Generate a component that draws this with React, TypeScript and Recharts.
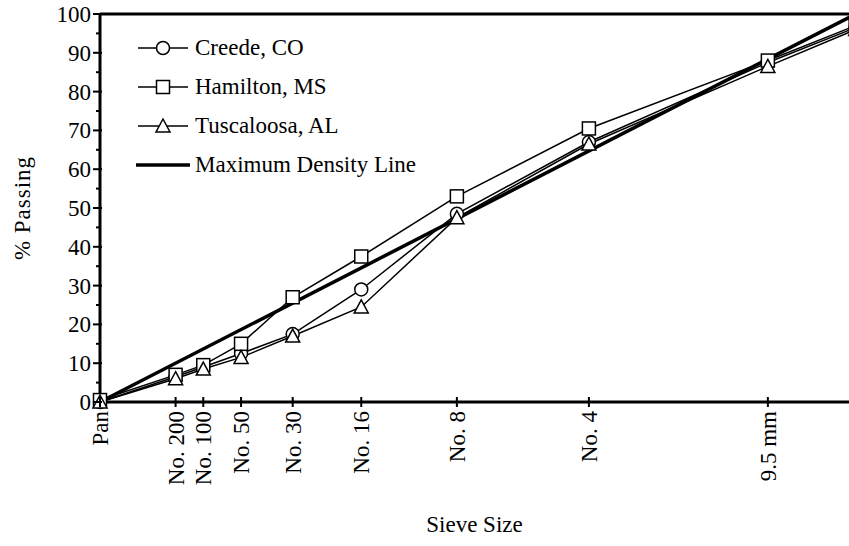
import { LineChart, Line, XAxis, YAxis, ReferenceLine } from "recharts";

// sieve sizes in mm, plotted on a 0.45 power scale
const sieveLabels = ["Pan", "No. 200", "No. 100", "No. 50", "No. 30", "No. 16", "No. 8", "No. 4", "9.5 mm", "12.5 mm"];
const sieveSizesMm = [0, 0.075, 0.15, 0.3, 0.6, 1.18, 2.36, 4.75, 9.5, 12.5];
const tickCount = 9; // Pan .. 9.5 mm get a label

const creede = [0, 6.5, 9, 12.5, 17.5, 29, 48.5, 67, 87.5, 96.5];
const hamilton = [0.5, 7, 9.5, 15, 27, 37.5, 53, 70.5, 88, 97];
const tuscaloosa = [0, 6, 8.5, 11.5, 17, 24.5, 47.5, 66.5, 86.5, 96];

const maxDensitySizesMm = [0, 12.5];
const maxDensity = [0, 100];

const yTicks = [0, 5, 10, 15, 20, 25, 30, 35, 40, 45, 50, 55, 60, 65, 70, 75, 80, 85, 90, 95, 100];

const P = 0.45;
const px = (mm: number) => Math.pow(mm, P);

const toRows = (vals: number[]) => sieveSizesMm.map((mm, i) => ({ x: px(mm), y: vals[i] }));
const creedeRows = toRows(creede);
const hamiltonRows = toRows(hamilton);
const tuscaloosaRows = toRows(tuscaloosa);
const maxDensityRows = maxDensitySizesMm.map((mm, i) => ({ x: px(mm), y: maxDensity[i] }));
const xTicks = sieveSizesMm.slice(0, tickCount).map(px);

const FONT = "'Liberation Serif', 'Times New Roman', serif";
const FS = 23;

const Circle = ({ cx, cy }: any) => (
  <circle cx={cx} cy={cy} r={6.5} fill="#fff" stroke="#000" strokeWidth={1.5} />
);
const Square = ({ cx, cy }: any) => (
  <rect x={cx - 6.5} y={cy - 6.5} width={13} height={13} fill="#fff" stroke="#000" strokeWidth={1.5} />
);
const Triangle = ({ cx, cy }: any) => (
  <polygon
    points={`${cx},${cy - 7} ${cx + 7},${cy + 6} ${cx - 7},${cy + 6}`}
    fill="#fff"
    stroke="#000"
    strokeWidth={1.5}
  />
);

const YTick = ({ x, y, payload }: any) => {
  const v = payload.value;
  const major = v % 10 === 0;
  return (
    <g>
      <line x1={x - (major ? 7 : 4)} x2={x + (major ? 2 : 0)} y1={y} y2={y} stroke="#000" strokeWidth={2} />
      {major && (
        <text x={x - 9} y={y} dy="0.35em" textAnchor="end" fontFamily={FONT} fontSize={FS} fill="#000">
          {v}
        </text>
      )}
    </g>
  );
};

const XTick = ({ x, y, payload }: any) => {
  const idx = xTicks.findIndex((t) => Math.abs(t - payload.value) < 1e-6);
  return (
    <g>
      <line x1={x} x2={x} y1={y - 5} y2={y + 5} stroke="#000" strokeWidth={2} />
      <text
        transform={`translate(${x},${y + 9}) rotate(-90)`}
        dy="0.35em"
        textAnchor="end"
        fontFamily={FONT}
        fontSize={FS}
        fill="#000"
      >
        {sieveLabels[idx]}
      </text>
    </g>
  );
};

const legendItems = [
  { name: "Creede, CO", Mark: Circle },
  { name: "Hamilton, MS", Mark: Square },
  { name: "Tuscaloosa, AL", Mark: Triangle },
  { name: "Maximum Density Line", Mark: null },
];

const ChartLegend = () => (
  <div style={{ position: "absolute", left: 134, top: 28, fontFamily: FONT, fontSize: FS, color: "#000" }}>
    {legendItems.map(({ name, Mark }) => (
      <div key={name} style={{ display: "flex", alignItems: "center", height: 39 }}>
        <svg width={58} height={20} style={{ marginRight: 3 }}>
          {Mark ? (
            <>
              <line x1={4} x2={54} y1={10} y2={10} stroke="#000" strokeWidth={1.5} />
              <Mark cx={29} cy={10} />
            </>
          ) : (
            <line x1={2} x2={56} y1={10} y2={10} stroke="#000" strokeWidth={3.5} />
          )}
        </svg>
        <span style={{ lineHeight: 1 }}>{name}</span>
      </div>
    ))}
  </div>
);

export default function App() {
  return (
    <div style={{ position: "absolute", left: 0, top: 0, width: 849, height: 546, overflow: "hidden", background: "#fff" }}>
      <LineChart width={876} height={546} margin={{ top: 14, right: 0, left: 0, bottom: 0 }}>
        <XAxis
          type="number"
          dataKey="x"
          domain={[0, 3.2]}
          ticks={xTicks}
          interval={0}
          tickSize={0}
          tickMargin={0}
          tick={<XTick />}
          height={144}
          axisLine={{ stroke: "#000", strokeWidth: 3 }}
          tickLine={false}
          label={({ viewBox }: any) => (
            <text
              x={100 + (849 - 100) / 2}
              y={viewBox.y + 130}
              textAnchor="middle"
              fontFamily={FONT}
              fontSize={FS}
              fill="#000"
            >
              Sieve Size
            </text>
          )}
        />
        <YAxis
          type="number"
          domain={[0, 100]}
          ticks={yTicks}
          interval={0}
          width={100}
          tickSize={0}
          tickMargin={0}
          tick={<YTick />}
          axisLine={{ stroke: "#000", strokeWidth: 3 }}
          tickLine={false}
          label={({ viewBox }: any) => (
            <text
              transform={`translate(${viewBox.x + 22},${viewBox.y + viewBox.height / 2}) rotate(-90)`}
              textAnchor="middle"
              dy="0.35em"
              fontFamily={FONT}
              fontSize={FS}
              letterSpacing={1}
              fill="#000"
            >
              % Passing
            </text>
          )}
        />
        <ReferenceLine y={100} stroke="#000" strokeWidth={3} />
        <Line
          data={creedeRows}
          dataKey="y"
          stroke="#000"
          strokeWidth={1.5}
          isAnimationActive={false}
          dot={(p: any) => <Circle key={`c${p.index}`} cx={p.cx} cy={p.cy} />}
        />
        <Line
          data={hamiltonRows}
          dataKey="y"
          stroke="#000"
          strokeWidth={1.5}
          isAnimationActive={false}
          dot={(p: any) => <Square key={`s${p.index}`} cx={p.cx} cy={p.cy} />}
        />
        <Line
          data={tuscaloosaRows}
          dataKey="y"
          stroke="#000"
          strokeWidth={1.5}
          isAnimationActive={false}
          dot={(p: any) => <Triangle key={`t${p.index}`} cx={p.cx} cy={p.cy} />}
        />
        <Line
          data={maxDensityRows}
          dataKey="y"
          stroke="#000"
          strokeWidth={3.5}
          dot={false}
          isAnimationActive={false}
        />
      </LineChart>
      <ChartLegend />
    </div>
  );
}
